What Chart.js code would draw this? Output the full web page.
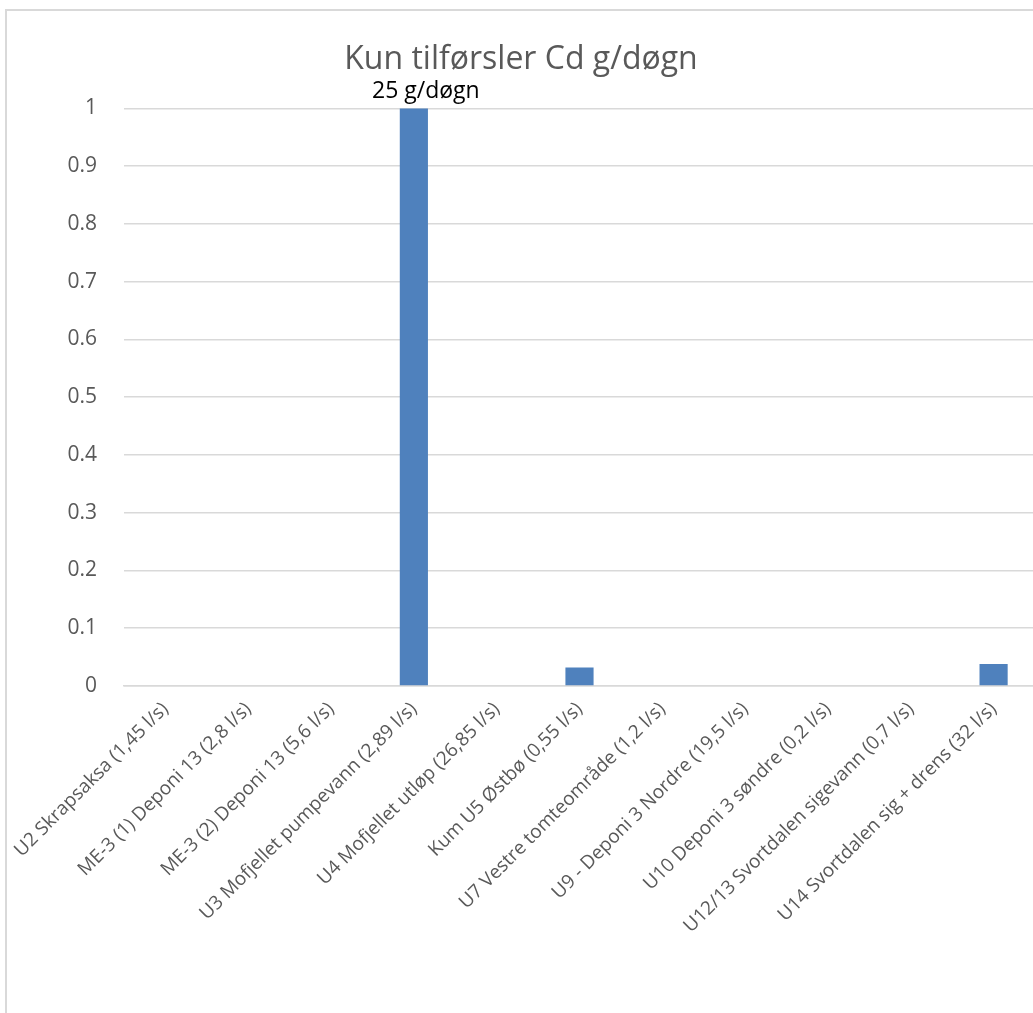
<!DOCTYPE html>
<html>
<head>
<meta charset="utf-8">
<script src="https://cdn.jsdelivr.net/npm/chart.js@4"></script>
<style>
  html, body { margin: 0; padding: 0; background: #fff; overflow: hidden; }
  .frame {
    position: absolute; left: 5px; top: 9px;
    width: 1030px; height: 1004px;
    border-left: 2px solid #d9d9d9; border-top: 2px solid #d9d9d9;
  }
  .box { position: absolute; left: 0; top: 0; width: 1028px; height: 1002px; }
</style>
</head>
<body>
<div class="frame">
  <div class="box"><canvas id="cdChart"></canvas></div>
</div>
<script>
const categories = [
    'U2 Skrapsaksa (1,45 l/s)',
    'ME-3 (1) Deponi 13 (2,8 l/s)',
    'ME-3 (2) Deponi 13 (5,6 l/s)',
    'U3 Mofjellet pumpevann (2,89 l/s)',
    'U4 Mofjellet utløp (26,85 l/s)',
    'Kum U5 Østbø (0,55 l/s)',
    'U7 Vestre tomteområde (1,2 l/s)',
    'U9 - Deponi 3 Nordre (19,5 l/s)',
    'U10 Deponi 3 søndre (0,2 l/s)',
    'U12/13 Svortdalen sigevann (0,7 l/s)',
    'U14 Svortdalen sig + drens (32 l/s)'
];
// g/døgn, U3 goes far above the axis (25) and is cut at 1
const cdValues = [0, 0, 0, 25, 0, 0.032, 0, 0, 0, 0, 0.038];
const yTicks = [0, 0.1, 0.2, 0.3, 0.4, 0.5, 0.6, 0.7, 0.8, 0.9, 1];
const unit = 'g/døgn';

const grey = '#595959';
const font = "'Open Sans', 'Liberation Sans', sans-serif";

// label over bars that are cut off by the axis max
const overflowLabel = {
    id: 'overflowLabel',
    afterDatasetsDraw(chart) {
        const c = chart.ctx;
        const yMax = chart.scales.y.max;
        const meta = chart.getDatasetMeta(0);
        c.save();
        c.fillStyle = '#000';
        c.font = '23px ' + font;
        c.textAlign = 'center';
        c.textBaseline = 'alphabetic';
        cdValues.forEach((v, i) => {
            if (v > yMax) {
                const bar = meta.data[i];
                c.fillText(v + ' ' + unit, bar.x + 12, chart.chartArea.top - 10);
            }
        });
        c.restore();
    }
};

new Chart(document.getElementById('cdChart'), {
    type: 'bar',
    data: {
        labels: categories,
        datasets: [{
            label: 'Cd',
            data: cdValues,
            backgroundColor: '#4f81bd',
            borderWidth: 0,
            barPercentage: 0.34,
            categoryPercentage: 1
        }]
    },
    options: {
        responsive: true,
        maintainAspectRatio: false,
        animation: false,
        layout: { padding: { left: 0, right: 0, top: 0, bottom: 0 } },
        scales: {
            y: {
                min: 0,
                max: 1,
                afterBuildTicks(scale) {
                    scale.ticks = yTicks.map(v => ({ value: v }));
                },
                afterFit(scale) { scale.width = 117; },
                grid: { color: '#d9d9d9', lineWidth: 1.5, drawTicks: false },
                border: { display: false },
                ticks: {
                    color: grey,
                    padding: 27,
                    font: { family: font, size: 21 },
                    callback: v => String(v)
                }
            },
            x: {
                afterFit(scale) { scale.height = 327; },
                grid: { display: false },
                border: { color: '#d9d9d9', width: 1.5 },
                ticks: {
                    color: grey,
                    autoSkip: false,
                    minRotation: 45,
                    maxRotation: 45,
                    padding: 4,
                    font: { family: font, size: 19 }
                }
            }
        },
        plugins: {
            legend: { display: false },
            tooltip: { enabled: false },
            title: {
                display: true,
                text: 'Kun tilførsler Cd g/døgn',
                color: grey,
                font: { family: font, size: 32, weight: 'normal' },
                padding: { top: 30, bottom: 29 }
            }
        }
    },
    plugins: [overflowLabel]
});
</script>
</body>
</html>
